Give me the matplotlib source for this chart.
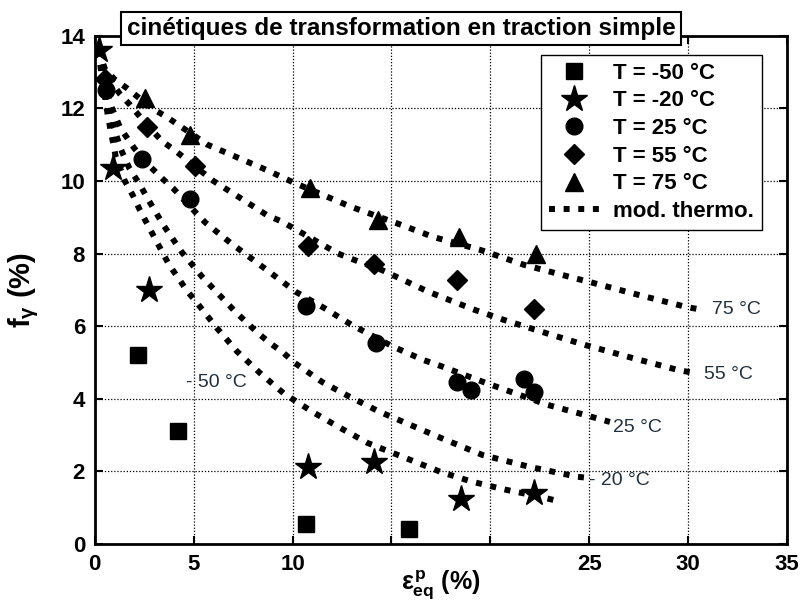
import matplotlib
matplotlib.use("Agg")
import matplotlib.pyplot as plt

plt.rcParams['font.family'] = ['Liberation Sans', 'DejaVu Sans']
plt.rcParams['mathtext.fontset'] = 'custom'
plt.rcParams['mathtext.rm'] = 'Liberation Sans:bold'
plt.rcParams['mathtext.it'] = 'Liberation Sans:bold'
plt.rcParams['mathtext.bf'] = 'Liberation Sans:bold'

# measured points
sq_x = [2.2, 4.2, 10.7, 15.9]
sq_y = [5.2, 3.1, 0.55, 0.42]
star_x = [0.2, 0.9, 2.75, 10.8, 14.1, 18.5, 22.2]
star_y = [13.6, 10.35, 7.0, 2.12, 2.26, 1.24, 1.40]
circ_x = [0.55, 2.4, 4.8, 10.7, 14.2, 18.3, 19.0, 21.7, 22.2]
circ_y = [12.5, 10.6, 9.5, 6.55, 5.53, 4.47, 4.24, 4.54, 4.19]
diam_x = [0.5, 2.63, 5.07, 10.8, 14.1, 18.3, 22.2]
diam_y = [12.8, 11.5, 10.4, 8.2, 7.7, 7.27, 6.47]
tri_x = [2.54, 4.8, 10.9, 14.3, 18.4, 22.3]
tri_y = [12.3, 11.27, 9.8, 8.93, 8.46, 8.0]

# model curves (mod. thermo.)
m75_x = [0.2, 0.5, 1.0, 1.62, 2.9, 3.65, 5.7, 8.7, 10.0, 12.9, 15.5, 17.1, 19.5, 21.7, 24.2, 25.0, 27.5, 29.9, 30.7]
m75_y = [13.6, 13.1, 12.8, 12.56, 12.0, 11.76, 11.0, 10.3, 9.97, 9.3, 8.79, 8.46, 8.1, 7.69, 7.33, 7.22, 6.86, 6.53, 6.45]
m55_x = [0.2, 0.6, 1.27, 1.78, 2.63, 3.4, 4.15, 6.0, 7.36, 8.7, 9.5, 12.3, 13.0, 14.5, 16.9, 19.2, 20.7, 23.1, 24.8, 27.2, 29.5, 30.3]
m55_y = [13.6, 12.9, 12.4, 12.1, 11.55, 11.1, 10.8, 10.0, 9.53, 9.06, 8.87, 8.0, 7.85, 7.55, 6.94, 6.45, 6.17, 5.76, 5.48, 5.12, 4.79, 4.71]
m25_x = [0.2, 0.45, 0.8, 1.3, 2.0, 2.7, 3.45, 3.96, 5.07, 5.6, 6.85, 9.55, 10.15, 11.6, 13.0, 15.1, 16.6, 17.5, 19.8, 22.9, 24.4, 26.05]
m25_y = [13.6, 12.8, 12.1, 11.45, 10.9, 10.45, 10.05, 9.8, 9.15, 8.85, 8.3, 7.2, 6.95, 6.5, 6.03, 5.43, 5.07, 4.9, 4.43, 3.83, 3.61, 3.36]
m20_x = [0.2, 0.4, 0.65, 0.95, 1.3, 1.75, 2.28, 2.69, 3.5, 4.4, 5.43, 7.1, 8.27, 8.87, 9.55, 10.1, 11.5, 12.9, 14.4, 17.5, 19.6, 22.0, 24.4, 24.9]
m20_y = [13.6, 12.9, 12.2, 11.5, 10.9, 10.35, 9.9, 9.5, 8.76, 8.04, 7.36, 6.4, 5.8, 5.53, 5.26, 4.99, 4.46, 4.05, 3.64, 2.92, 2.45, 2.12, 1.85, 1.82]
m50_x = [0.2, 0.3, 0.45, 0.6, 0.8, 1.05, 1.52, 1.93, 2.28, 3.0, 3.76, 4.67, 5.17, 6.17, 7.2, 8.37, 9.55, 11.0, 12.4, 13.8, 17.5, 19.1, 20.8, 22.5, 23.2]
m50_y = [13.6, 13.1, 12.6, 12.0, 11.4, 10.7, 10.0, 9.6, 9.2, 8.46, 7.69, 6.97, 6.64, 5.95, 5.3, 4.7, 4.15, 3.64, 3.2, 2.78, 1.98, 1.71, 1.49, 1.3, 1.21]

curve_labels = ["75 °C", "55 °C", "25 °C", "- 20 °C", "- 50 °C"]
label_x = [31.2, 30.8, 26.2, 25.0, 4.6]
label_y = [6.45, 4.66, 3.22, 1.76, 4.46]

fig = plt.figure(figsize=(8.03, 6.07), dpi=100)
ax = fig.add_axes([0.118, 0.104, 0.862, 0.837])

dot = dict(color='k', lw=4.3, linestyle=(0, (1, 1.45)))
mline, = ax.plot(m75_x, m75_y, **dot)
for cx, cy in [(m55_x, m55_y), (m25_x, m25_y), (m20_x, m20_y), (m50_x, m50_y)]:
    ax.plot(cx, cy, **dot)

h1, = ax.plot(sq_x, sq_y, 's', color='k', ms=11, ls='none')
h2, = ax.plot(star_x, star_y, '*', color='k', ms=20, ls='none')
h3, = ax.plot(circ_x, circ_y, 'o', color='k', ms=12, ls='none')
h4, = ax.plot(diam_x, diam_y, 'D', color='k', ms=10, ls='none')
h5, = ax.plot(tri_x, tri_y, '^', color='k', ms=13.5, ls='none')

for t, lx, ly in zip(curve_labels, label_x, label_y):
    ax.text(lx, ly, t, fontsize=14, color='#22303c', va='center', ha='left')

ax.set_xlim(0, 35)
ax.set_ylim(0, 14)
ax.set_xticks([0, 5, 10, 15, 20, 25, 30, 35])
ax.set_xticklabels(['0', '5', '10', '', '', '25', '30', '35'])
ax.set_yticks([0, 2, 4, 6, 8, 10, 12, 14])
ax.tick_params(direction='in', top=True, right=True, length=6, width=1.5,
               labelsize=16, pad=7)
for lab in ax.get_xticklabels() + ax.get_yticklabels():
    lab.set_fontweight('bold')
for s in ax.spines.values():
    s.set_linewidth(2)
ax.grid(True, color='k', linestyle=(0, (1, 1.5)), linewidth=0.9)

ax.set_xlabel(r'$\varepsilon^{p}_{eq}$ (%)', fontsize=18, fontweight='bold', labelpad=-4)
ax.set_ylabel(r'f$_{\gamma}$ (%)', fontsize=21, fontweight='bold', labelpad=14)

leg = ax.legend([h1, h2, h3, h4, h5, mline],
                ["T = -50 °C", "T = -20 °C", "T = 25 °C", "T = 55 °C", "T = 75 °C", "mod. thermo."],
                loc='upper right', bbox_to_anchor=(0.98, 0.984), fancybox=False,
                edgecolor='k', framealpha=1, prop={'weight': 'bold', 'size': 16},
                labelspacing=0.3, handlelength=2.3, handletextpad=0.6, borderpad=0.35)
leg.get_frame().set_linewidth(1.0)

fig.text(0.4995, 0.953, "cinétiques de transformation en traction simple",
         ha='center', va='center', fontsize=17.5, fontweight='bold',
         bbox=dict(boxstyle='square,pad=0.22', fc='white', ec='k', lw=1.5))

fig.savefig('out.png', dpi=100)
